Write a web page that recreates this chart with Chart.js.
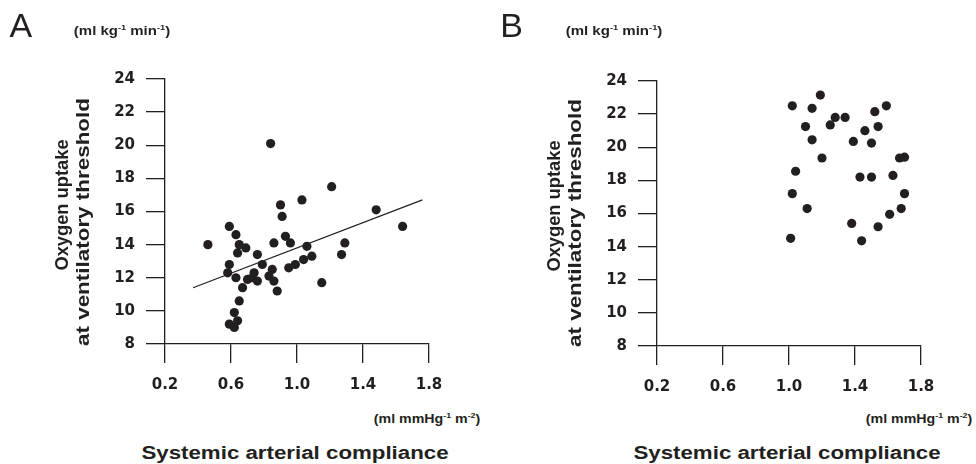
<!DOCTYPE html>
<html>
<head>
<meta charset="utf-8">
<script src="https://cdn.jsdelivr.net/npm/chart.js@4.4.1/dist/chart.umd.min.js"></script>
<style>
  html, body { margin: 0; padding: 0; background: #fff; }
  #page { position: relative; width: 976px; height: 464px; overflow: hidden;
          font-family: "Liberation Sans", Arial, sans-serif; color: #231f20; }
  canvas { position: absolute; }
  .t { position: absolute; white-space: nowrap; line-height: 1; height: 1em; font-weight: bold; }
  .t sup { font-size: 0.62em; line-height: 0; vertical-align: 0.5em; }
  .letter { font-weight: normal; font-size: 34px; }
  .unit { font-size: 13px; }
  .title { font-size: 18px; }
</style>
</head>
<body>
<div id="page">
  <canvas id="chart-a" width="484" height="400" style="left:0;top:0"></canvas>
  <canvas id="chart-b" width="484" height="400" style="left:492px;top:2px"></canvas>

  <!-- panel A texts -->
  <div class="t letter" data-cx="20.8" data-cy="24.9">A</div>
  <div class="t unit" data-cx="122.4" data-cy="30.1" data-w="96.7">(ml kg<sup>-1</sup> min<sup>-1</sup>)</div>
  <div class="t title" data-cx="62.1" data-cy="204.7" data-w="131" data-rot="1">Oxygen uptake</div>
  <div class="t title" data-cx="83.1" data-cy="222" data-w="248" data-rot="1">at ventilatory threshold</div>
  <div class="t unit" data-cx="427" data-cy="417.8" data-w="106">(ml mmHg<sup>-1</sup> m<sup>-2</sup>)</div>
  <div class="t title" data-cx="295.3" data-cy="453.1" data-w="307">Systemic arterial compliance</div>

  <!-- panel B texts -->
  <div class="t letter" data-cx="511.5" data-cy="24.9">B</div>
  <div class="t unit" data-cx="614.2" data-cy="30.1" data-w="97">(ml kg<sup>-1</sup> min<sup>-1</sup>)</div>
  <div class="t title" data-cx="554.1" data-cy="206" data-w="131" data-rot="1">Oxygen uptake</div>
  <div class="t title" data-cx="575.1" data-cy="223" data-w="248" data-rot="1">at ventilatory threshold</div>
  <div class="t unit" data-cx="918.7" data-cy="417.8" data-w="106">(ml mmHg<sup>-1</sup> m<sup>-2</sup>)</div>
  <div class="t title" data-cx="786.5" data-cy="453.1" data-w="307">Systemic arterial compliance</div>
</div>

<script>
// 目盛り
const xTicks = [0.2, 0.6, 1.0, 1.4, 1.8];
const yTicks = [8, 10, 12, 14, 16, 18, 20, 22, 24];

// A: 動脈コンプライアンス vs 換気性閾値での酸素摂取量
const compA = [0.84, 1.21, 1.03, 1.48, 1.64, 0.90, 0.91, 0.59, 0.63, 0.46,
               0.65, 0.69, 0.64, 0.76, 0.86, 0.93, 0.96, 1.06, 1.29, 1.27,
               1.09, 1.04, 0.99, 0.95, 0.59, 0.58, 0.63, 0.79, 0.85, 0.74,
               0.70, 0.73, 0.76, 0.83, 0.86, 0.88, 1.15, 0.67, 0.65, 0.62,
               0.64, 0.59, 0.62];
const vo2A = [20.1, 17.5, 16.7, 16.1, 15.1, 16.4, 15.7, 15.1, 14.6, 14.0,
              14.0, 13.8, 13.5, 13.4, 14.1, 14.5, 14.1, 13.9, 14.1, 13.4,
              13.3, 13.1, 12.8, 12.6, 12.8, 12.3, 12.0, 12.8, 12.5, 12.3,
              11.9, 12.0, 11.8, 12.1, 11.8, 11.2, 11.7, 11.4, 10.6, 9.9,
              9.4, 9.2, 9.0];

// A の回帰直線（両端）
const fitX = [0.37, 1.76];
const fitY = [11.4, 16.7];

// B
const compB = [1.02, 1.19, 1.14, 1.10, 1.28, 1.34, 1.25, 1.14, 1.20, 1.04,
               1.02, 1.11, 1.01, 1.39, 1.46, 1.52, 1.59, 1.54, 1.50, 1.43,
               1.50, 1.63, 1.67, 1.70, 1.70, 1.68, 1.61, 1.54, 1.38, 1.44];
const vo2B = [22.5, 23.15, 22.35, 21.25, 21.8, 21.8, 21.35, 20.45, 19.35, 18.55,
              17.2, 16.3, 14.5, 20.35, 21.0, 22.15, 22.5, 21.25, 20.25, 18.2,
              18.2, 18.3, 19.35, 19.4, 17.2, 16.3, 15.95, 15.2, 15.4, 14.35];

const INK = "#231f20";

const toPoints = (xs, ys) => xs.map((x, i) => ({ x, y: ys[i] }));

function axisStyle(extra) {
  return Object.assign({
    type: "linear",
    grid: { display: true, drawOnChartArea: false, drawTicks: true,
            tickLength: 19, color: INK, lineWidth: 1.3 },
    border: { display: true, color: INK, width: 1.3 },
    ticks: { color: INK, autoSkip: false, maxRotation: 0,
             font: { family: "DejaVu Sans", weight: "bold", size: 15 } },
  }, extra);
}

function makeChart(canvas, datasets) {
  return new Chart(canvas, {
    type: "scatter",
    data: { datasets },
    options: {
      responsive: false,
      animation: false,
      layout: { padding: { top: 79, right: 55, bottom: 0, left: 0 } },
      plugins: { legend: { display: false }, tooltip: { enabled: false } },
      scales: {
        x: axisStyle({
          min: 0.2, max: 1.8,
          afterBuildTicks: (s) => { s.ticks = xTicks.map((v) => ({ value: v })); },
          afterFit: (s) => { s.height = 56; },
          ticks: Object.assign(axisStyle().ticks, { padding: 13, callback: (v) => v.toFixed(1) }),
        }),
        y: axisStyle({
          min: 8, max: 24,
          afterBuildTicks: (s) => { s.ticks = yTicks.map((v) => ({ value: v })); },
          afterFit: (s) => { s.width = 165; },
          ticks: Object.assign(axisStyle().ticks, { padding: 11 }),
        }),
      },
    },
  });
}

const dots = (data) => ({
  data, pointRadius: 4.6, pointBackgroundColor: INK, pointBorderWidth: 0, showLine: false,
});

makeChart(document.getElementById("chart-a"), [
  dots(toPoints(compA, vo2A)),
  { data: toPoints(fitX, fitY), showLine: true, borderColor: INK, borderWidth: 1.2, pointRadius: 0 },
]);
makeChart(document.getElementById("chart-b"), [dots(toPoints(compB, vo2B))]);

// 文字の位置合わせ（中心座標 + 幅合わせ）
document.querySelectorAll(".t").forEach((el) => {
  el.style.left = el.dataset.cx + "px";
  el.style.top = el.dataset.cy + "px";
  let tf = "translate(-50%, -50%)";
  if (el.dataset.rot) tf += " rotate(-90deg)";
  if (el.dataset.w) tf += " scaleX(" + (el.dataset.w / el.offsetWidth).toFixed(3) + ")";
  el.style.transform = tf;
});
</script>
</body>
</html>
